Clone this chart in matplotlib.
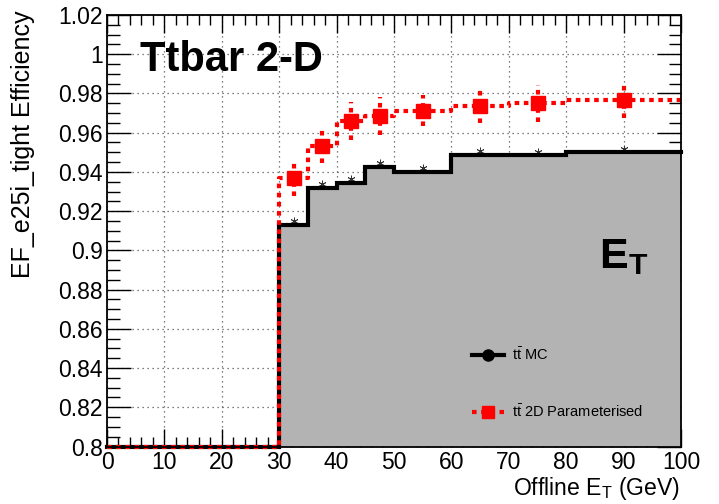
#!/usr/bin/env python3
"""Trigger efficiency vs offline ET: ttbar MC compared with the 2-D parameterisation."""

import matplotlib
matplotlib.use('Agg')
import matplotlib.pyplot as plt
from matplotlib.lines import Line2D
from matplotlib.ticker import MultipleLocator, FuncFormatter
import numpy as np

plt.rcParams.update({
    'font.family': 'Liberation Sans',
    'mathtext.fontset': 'custom',
    'mathtext.rm': 'Liberation Sans',
    'mathtext.it': 'Liberation Sans:italic',
    'mathtext.bf': 'Liberation Sans:bold',
})

# ── Data ────────────────────────────────────────────────────────────────────
BIN_EDGES = [0, 30, 35, 40, 45, 50, 60, 70, 80, 100]
MC_EFF    = [0.0, 0.913, 0.932, 0.9345, 0.9425, 0.940, 0.9487, 0.9484, 0.950]
PAR_EFF   = [0.0, 0.9368, 0.9532, 0.9660, 0.9685, 0.9712, 0.9737, 0.9750, 0.9768]
PAR_ERR   = [0.0, 0.0089, 0.0089, 0.0095, 0.0097, 0.0080, 0.0087, 0.0093, 0.0092]

Y_MIN, Y_MAX = 0.80, 1.02
X_MIN, X_MAX = 0, 100

GREY = '#b3b3b3'
RED = '#ff0000'
DOTS = (0, (1.1, 1.1))

edges = np.array(BIN_EDGES, dtype=float)
centres = 0.5 * (edges[1:] + edges[:-1])
mc = np.maximum(np.array(MC_EFF), Y_MIN)
par = np.maximum(np.array(PAR_EFF), Y_MIN)
par_err = np.array(PAR_ERR)
filled = np.array(PAR_EFF) > 0

# step arrays (value repeated so the last bin reaches the right edge)
mc_step = np.append(mc, mc[-1])
par_step = np.append(par, par[-1])


def ylabel_fmt(v, pos):
    return f'{v:.2f}'.rstrip('0').rstrip('.')


fig = plt.figure(figsize=(7.19, 5.04), dpi=100)
ax = fig.add_axes([107 / 719, 1 - 446.5 / 504, (681 - 107) / 719, (446.5 - 15) / 504])

# grid underneath everything
ax.set_axisbelow(True)
ax.grid(True, which='major', color='#555555', lw=0.9, ls=(0, (1, 3)), zorder=0)

# MC histogram: grey fill with thick black outline
ax.fill_between(edges, Y_MIN, mc_step, step='post', color=GREY, lw=0, zorder=2)
ax.step(edges, mc_step, where='post', color='black', lw=3.0, zorder=3,
        solid_joinstyle='miter', clip_on=False)
ax.plot(centres[filled], mc[filled] + 0.0018, ls='none', marker=(6, 2, 0),
        ms=5.5, mew=0.6, color='#333333', zorder=2.5)

# 2D parameterisation: dotted red step + squares with dotted error bars
ax.step(edges, par_step, where='post', color=RED, lw=3.0, ls=DOTS,
        zorder=4, clip_on=False)
eb = ax.errorbar(centres[filled], par[filled], yerr=par_err[filled], fmt='s',
                 color=RED, ms=9.5, mec=RED, elinewidth=3.0, capsize=0, zorder=5)
eb[2][0].set_linestyle(DOTS)

ax.set_xlim(X_MIN, X_MAX)
ax.set_ylim(Y_MIN, Y_MAX)
ax.xaxis.set_major_locator(MultipleLocator(10))
ax.xaxis.set_minor_locator(MultipleLocator(2))
ax.yaxis.set_major_locator(MultipleLocator(0.02))
ax.yaxis.set_minor_locator(MultipleLocator(0.005))
ax.yaxis.set_major_formatter(FuncFormatter(ylabel_fmt))

ax.tick_params(which='both', direction='in', top=True, right=True,
               labelsize=16.5, color='black', width=1.0)
ax.tick_params(axis='x', which='major', length=13, pad=3)
ax.tick_params(axis='x', which='minor', length=7)
ax.tick_params(axis='y', which='major', length=17, pad=3)
ax.tick_params(axis='y', which='minor', length=9)
for sp in ax.spines.values():
    sp.set_linewidth(1.3)
    sp.set_zorder(6)

fig.text(23 / 719, 1 - 11 / 504, 'EF_e25i_tight Efficiency', rotation=90,
         ha='center', va='top', fontsize=18)
fig.text(680 / 719, 1 - 488 / 504, r'Offline E$_\mathrm{T}$ (GeV)',
         ha='right', va='center', fontsize=16.6)

ax.text(0.058, 0.895, 'Ttbar 2-D', transform=ax.transAxes, fontsize=30,
        fontweight='bold', ha='left', va='center', zorder=7)
ax.text(0.857, 0.438, r'$\mathbf{E_T}$', transform=ax.transAxes, fontsize=31,
        ha='left', va='center', zorder=7)

handles = [
    Line2D([0], [0], color='black', lw=3, marker='o', ms=8),
    Line2D([0], [0], color=RED, lw=3, ls=DOTS, marker='s', ms=9),
]
labels = [r'$\mathrm{t\bar{t}}$ MC', r'$\mathrm{t\bar{t}}$ 2D Parameterised']
leg = ax.legend(handles, labels, loc='upper left', bbox_to_anchor=(0.626, 0.245),
                frameon=False, fontsize=10.5, handlelength=2.2, handletextpad=0.5,
                labelspacing=2.75, borderaxespad=0)
leg.set_zorder(7)

fig.savefig('out.png', dpi=100)
